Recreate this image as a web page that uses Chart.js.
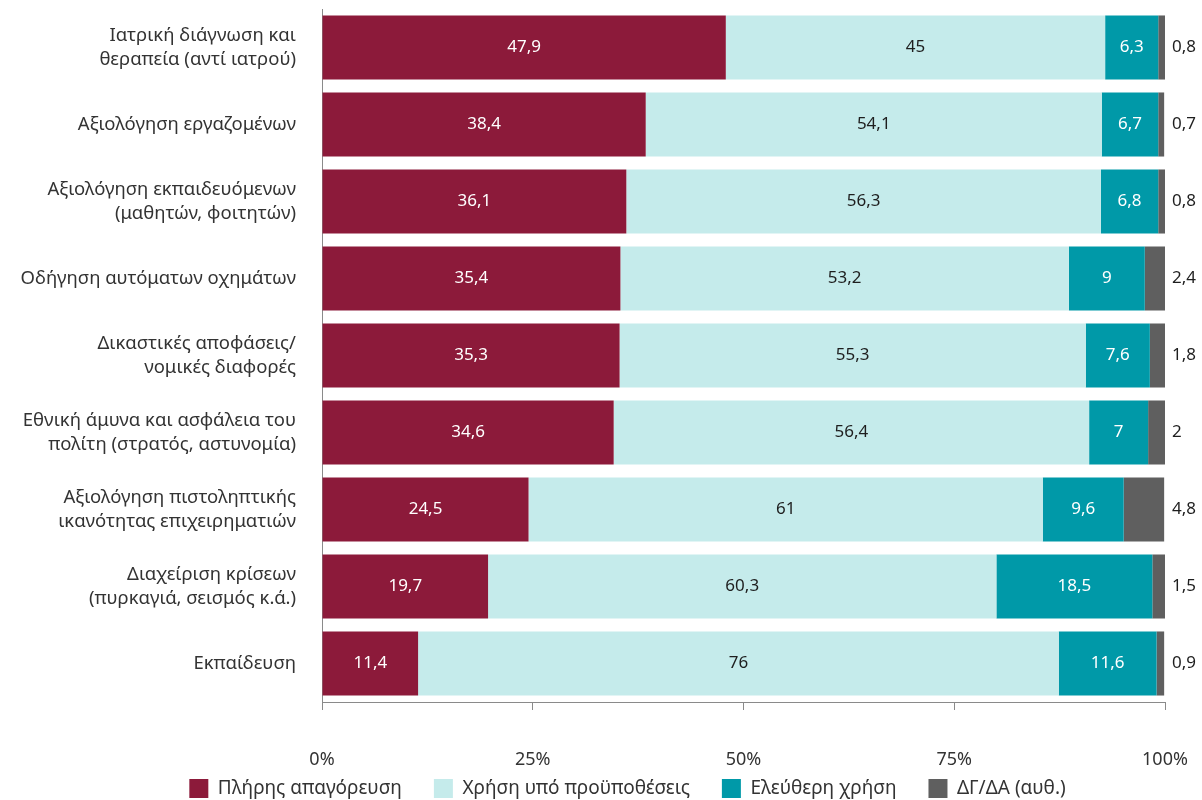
<!DOCTYPE html>
<html>
<head>
<meta charset="utf-8">
<script src="https://cdn.jsdelivr.net/npm/chart.js@4"></script>
<style>
  html, body { margin: 0; padding: 0; background: #fff; }
  #wrap { width: 1202px; height: 800px; }
</style>
</head>
<body>
<div id="wrap"><canvas id="ai_chart"></canvas></div>
<script>
var categories = [
  ["Ιατρική διάγνωση και", "θεραπεία (αντί ιατρού)"],
  "Αξιολόγηση εργαζομένων",
  ["Αξιολόγηση εκπαιδευόμενων", "(μαθητών, φοιτητών)"],
  "Οδήγηση αυτόματων οχημάτων",
  ["Δικαστικές αποφάσεις/", "νομικές διαφορές"],
  ["Εθνική άμυνα και ασφάλεια του", "πολίτη (στρατός, αστυνομία)"],
  ["Αξιολόγηση πιστοληπτικής", "ικανότητας επιχειρηματιών"],
  ["Διαχείριση κρίσεων", "(πυρκαγιά, σεισμός κ.ά.)"],
  "Εκπαίδευση"
];
var seriesNames = ["Πλήρης απαγόρευση", "Χρήση υπό προϋποθέσεις", "Ελεύθερη χρήση", "ΔΓ/ΔΑ (αυθ.)"];
var banned = [47.9, 38.4, 36.1, 35.4, 35.3, 34.6, 24.5, 19.7, 11.4];
var conditional = [45, 54.1, 56.3, 53.2, 55.3, 56.4, 61, 60.3, 76];
var free = [6.3, 6.7, 6.8, 9, 7.6, 7, 9.6, 18.5, 11.6];
var dkda = [0.8, 0.7, 0.8, 2.4, 1.8, 2, 4.8, 1.5, 0.9];
var xTicks = [0, 25, 50, 75, 100];

var colors = ["#8c1a3a", "#c5ebeb", "#0099a8", "#5f5f5f"];
var labelColors = ["#ffffff", "#1e1e1e", "#ffffff", "#1e1e1e"];
var FONT = "'Noto Sans', sans-serif";

function fmt(v) {
  return String(v).replace(".", ",");
}

// numbers on the bars, the last series is written outside on the right
var barLabels = {
  id: "barLabels",
  afterLayout: function (chart) {
    // legend is centred a bit right of the canvas middle in the original
    chart.legend.left += 90;
  },
  afterDatasetsDraw: function (chart) {
    var ctx = chart.ctx;
    ctx.save();
    ctx.font = "17px " + FONT;
    ctx.textBaseline = "middle";
    chart.data.datasets.forEach(function (ds, i) {
      var meta = chart.getDatasetMeta(i);
      meta.data.forEach(function (bar, j) {
        var v = ds.data[j];
        ctx.fillStyle = labelColors[i];
        if (i === chart.data.datasets.length - 1) {
          ctx.textAlign = "left";
          ctx.fillText(fmt(v), chart.chartArea.right + 7, bar.y);
        } else {
          ctx.textAlign = "center";
          ctx.fillText(fmt(v), (bar.x + bar.base) / 2, bar.y);
        }
      });
    });
    ctx.restore();
  }
};

var ctx = document.getElementById("ai_chart").getContext("2d");
var ai_chart = new Chart(ctx, {
  type: "bar",
  data: {
    labels: categories,
    datasets: [banned, conditional, free, dkda].map(function (d, i) {
      return {
        label: seriesNames[i],
        data: d,
        backgroundColor: colors[i],
        borderWidth: 0,
        categoryPercentage: 1,
        barPercentage: 0.832
      };
    })
  },
  options: {
    indexAxis: "y",
    responsive: true,
    maintainAspectRatio: false,
    animation: false,
    layout: { padding: { top: 9, right: 37, left: 0, bottom: -8 } },
    scales: {
      x: {
        stacked: true,
        min: 0,
        max: 100,
        afterBuildTicks: function (scale) {
          scale.ticks = xTicks.map(function (v) { return { value: v }; });
        },
        afterFit: function (scale) {
          scale.height = 45;
          scale.paddingLeft = 0;
          scale.paddingRight = 0;
          // labels sit lower than the box, don't clip them
          scale._computeLabelArea = function () { return undefined; };
        },
        ticks: {
          callback: function (v) { return v + "%"; },
          font: { family: FONT, size: 18 },
          color: "#333",
          padding: 39,
          maxRotation: 0
        },
        grid: {
          drawOnChartArea: false,
          drawTicks: true,
          tickLength: 8,
          color: "#8a8a8a"
        },
        border: { display: true, color: "#8a8a8a", width: 1 }
      },
      y: {
        stacked: true,
        afterFit: function (scale) {
          scale.width = 322;
          scale.paddingTop = 0;
          scale.paddingBottom = 0;
        },
        ticks: {
          font: { family: FONT, size: 18.5, lineHeight: 1.3 },
          color: "#333",
          padding: 26
        },
        grid: { display: false, drawTicks: false },
        border: { display: true, color: "#8a8a8a", width: 1 }
      }
    },
    plugins: {
      legend: {
        position: "bottom",
        labels: {
          font: { family: FONT, size: 19 },
          color: "#333",
          boxWidth: 19,
          boxHeight: 19,
          padding: 32
        }
      },
      tooltip: { enabled: false }
    }
  },
  plugins: [barLabels]
});
</script>
</body>
</html>
